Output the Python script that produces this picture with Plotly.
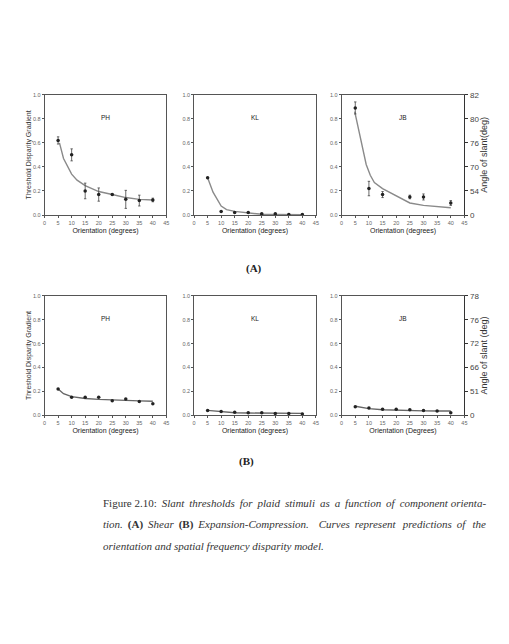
import plotly.graph_objects as go

W, H = 509, 644

orient = [5, 10, 15, 20, 25, 30, 35, 40]

# Panel A (Shear)
a_ph_y = [0.62, 0.50, 0.20, 0.17, 0.17, 0.13, 0.12, 0.125]
a_ph_err = [0.03, 0.05, 0.065, 0.055, 0.005, 0.075, 0.045, 0.015]
a_ph_cx = [5.5, 7, 10, 12, 15, 20, 25, 30, 35, 40]
a_ph_cy = [0.60, 0.47, 0.34, 0.29, 0.245, 0.195, 0.17, 0.145, 0.13, 0.125]

a_kl_y = [0.31, 0.03, 0.02, 0.02, 0.01, 0.01, 0.005, 0.005]
a_kl_err = [0, 0, 0, 0, 0, 0, 0, 0]
a_kl_cx = [5, 7, 10, 12, 15, 20, 25, 30, 35, 40]
a_kl_cy = [0.31, 0.19, 0.075, 0.045, 0.03, 0.02, 0.006, 0.005, 0.003, 0.003]

a_jb_x = [5, 10, 15, 25, 30, 40]
a_jb_y = [0.89, 0.22, 0.17, 0.15, 0.15, 0.10]
a_jb_err = [0.05, 0.06, 0.025, 0.015, 0.025, 0.02]
a_jb_cx = [4.8, 7, 9, 10.5, 12, 15, 20, 25, 30, 35, 40]
a_jb_cy = [0.86, 0.62, 0.42, 0.33, 0.27, 0.22, 0.16, 0.10, 0.08, 0.072, 0.06]

# Panel B (Expansion-Compression)
b_ph_y = [0.22, 0.15, 0.15, 0.15, 0.12, 0.135, 0.115, 0.095]
b_ph_cx = [5, 7, 10, 15, 20, 25, 30, 35, 40]
b_ph_cy = [0.22, 0.18, 0.155, 0.14, 0.132, 0.126, 0.123, 0.12, 0.117]

b_kl_y = [0.04, 0.03, 0.025, 0.02, 0.02, 0.015, 0.015, 0.01]
b_kl_cx = [5, 10, 15, 20, 25, 30, 35, 40]
b_kl_cy = [0.04, 0.028, 0.02, 0.018, 0.017, 0.016, 0.015, 0.015]

b_jb_y = [0.07, 0.06, 0.05, 0.05, 0.045, 0.04, 0.035, 0.02]
b_jb_cx = [5, 10, 15, 20, 25, 30, 35, 40]
b_jb_cy = [0.075, 0.055, 0.045, 0.04, 0.04, 0.036, 0.035, 0.035]

y_ticks = [0.0, 0.2, 0.4, 0.6, 0.8, 1.0]
y_ticktext = ["0.0", "0.2", "0.4", "0.6", "0.8", "1.0"]
x_ticks = [0, 5, 10, 15, 20, 25, 30, 35, 40, 45]
a_slant_text = ["0", "54", "70", "76", "80", "82"]
b_slant_text = ["0", "51", "66", "72", "76", "78"]

AX = "#555555"
FONT = "Liberation Sans, Arial, sans-serif"

fig = go.Figure()

def px_x(p):
    return p / W

def px_y(p):
    return 1 - p / H

# domains (pixels)
cols = [(43, 166), (194, 317), (343, 467)]
rows = [(92, 214), (296, 417)]

panels = [
    (0, 0, orient, a_ph_y, a_ph_err, a_ph_cx, a_ph_cy, "PH"),
    (0, 1, orient, a_kl_y, a_kl_err, a_kl_cx, a_kl_cy, "KL"),
    (0, 2, a_jb_x, a_jb_y, a_jb_err, a_jb_cx, a_jb_cy, "JB"),
    (1, 0, orient, b_ph_y, None, b_ph_cx, b_ph_cy, "PH"),
    (1, 1, orient, b_kl_y, None, b_kl_cx, b_kl_cy, "KL"),
    (1, 2, orient, b_jb_y, None, b_jb_cx, b_jb_cy, "JB"),
]

layout = {}
annotations = []
for i, (r, c, px, py, pe, cx, cy, lab) in enumerate(panels):
    n = i + 1
    xs = "" if n == 1 else str(n)
    xref, yref = "x" + xs, "y" + xs
    fig.add_trace(go.Scatter(x=cx, y=cy, mode="lines", xaxis=xref, yaxis=yref,
                             line=dict(color="#8a8a8a" if r == 0 else "#666666", width=1.4),
                             showlegend=False, hoverinfo="skip"))
    ekw = {}
    if pe is not None:
        ekw = dict(error_y=dict(type="data", array=pe, visible=True, thickness=0.8,
                                width=1.2, color="#444444"))
    fig.add_trace(go.Scatter(x=px, y=py, mode="markers", xaxis=xref, yaxis=yref,
                             marker=dict(color="#222222", size=3.5, symbol="circle"),
                             showlegend=False, **ekw))
    x0, x1 = cols[c]
    y0, y1 = rows[r]
    xd = [px_x(x0), px_x(x1)]
    yd = [px_y(y1), px_y(y0)]
    common = dict(showgrid=False, zeroline=False, showline=True, linecolor=AX,
                  linewidth=0.8, mirror=True, ticks="outside", ticklen=2,
                  tickcolor=AX, tickwidth=0.6,
                  tickfont=dict(size=5.5, color="#666666", family=FONT))
    layout["xaxis" + xs] = dict(domain=xd, range=[0, 45], tickvals=x_ticks,
                                anchor=yref, **common,
                                title=dict(text="Orientation (Degrees)" if n == 6 else "Orientation (degrees)",
                                           font=dict(size=7, color="#222222", family=FONT),
                                           standoff=3))
    layout["yaxis" + xs] = dict(domain=yd, range=[0, 1], tickvals=y_ticks,
                                ticktext=y_ticktext, anchor=xref, **common)
    if c == 0:
        layout["yaxis" + xs]["title"] = dict(text="Threshold Disparity Gradient",
                                             font=dict(size=7, color="#333333", family=FONT),
                                             standoff=0)
    annotations.append(dict(x=22.5, y=0.81, xref=xref, yref=yref, text=lab,
                            showarrow=False,
                            font=dict(size=6.5, color="#222222", family=FONT)))

# right-hand slant axes
for n, (r, txt, ttl) in zip([7, 8], [(0, a_slant_text, "Angle of slant(deg)"),
                                     (1, b_slant_text, "Angle of slant (deg)")]):
    base = "3" if r == 0 else "6"
    y0, y1 = rows[r]
    layout["yaxis" + str(n)] = dict(
        domain=[px_y(y1), px_y(y0)], range=[0, 1], overlaying="y" + base,
        anchor="x" + base, side="right", tickvals=y_ticks, ticktext=txt,
        showgrid=False, zeroline=False, showline=True, linecolor="#333333",
        linewidth=1, ticks="outside", ticklen=3, tickcolor="#333333",
        tickfont=dict(size=8, color="#444444", family=FONT),
        title=dict(text=ttl, font=dict(size=9, color="#333333", family=FONT), standoff=2))
    fig.add_trace(go.Scatter(x=[None], y=[None], xaxis="x" + base, yaxis="y" + str(n),
                             showlegend=False, hoverinfo="skip"))

SERIF = "Liberation Serif, Times New Roman, serif"
annotations += [
    dict(x=px_x(255), y=px_y(268), xref="paper", yref="paper", text="<b>(A)</b>",
         showarrow=False, font=dict(size=11, color="#222222", family=SERIF)),
    dict(x=px_x(247), y=px_y(473), xref="paper", yref="paper", text="<b>(B)</b>",
         showarrow=False, font=dict(size=11, color="#222222", family=SERIF)),
]
T = "\u2009"  # thin space, used to widen word gaps like justified text
line1 = ("Figure 2.10:" + T + " <i>Slant" + T + " thresholds" + T + " for" + T + " plaid" + T +
         " stimuli" + T + " as" + T + " a" + T + " function" + T + " of" + T + " component orienta-</i>")
line2 = ("<i>tion.</i>" + T + " <b>(A)</b>" + T + " <i>Shear</i>" + T + " <b>(B)</b>" + T +
         " <i>Expansion-Compression." + T + T + "  Curves" + T + " represent" + T + T + " predictions" + T +
         " of" + T + T + " the</i>")
line3 = "<i>orientation and spatial frequency disparity model.</i>"
cap = [(line1, 506), (line2, 528), (line3, 550)]
for t, yy in cap:
    annotations.append(dict(x=px_x(100), y=px_y(yy), xref="paper", yref="paper",
                            xanchor="left", yanchor="middle", text=t, showarrow=False,
                            font=dict(size=11, color="#333333", family=SERIF)))

fig.update_layout(width=W, height=H, margin=dict(l=0, r=0, t=0, b=0),
                  paper_bgcolor="white", plot_bgcolor="white",
                  annotations=annotations, **layout)

fig.write_html("out.html")
